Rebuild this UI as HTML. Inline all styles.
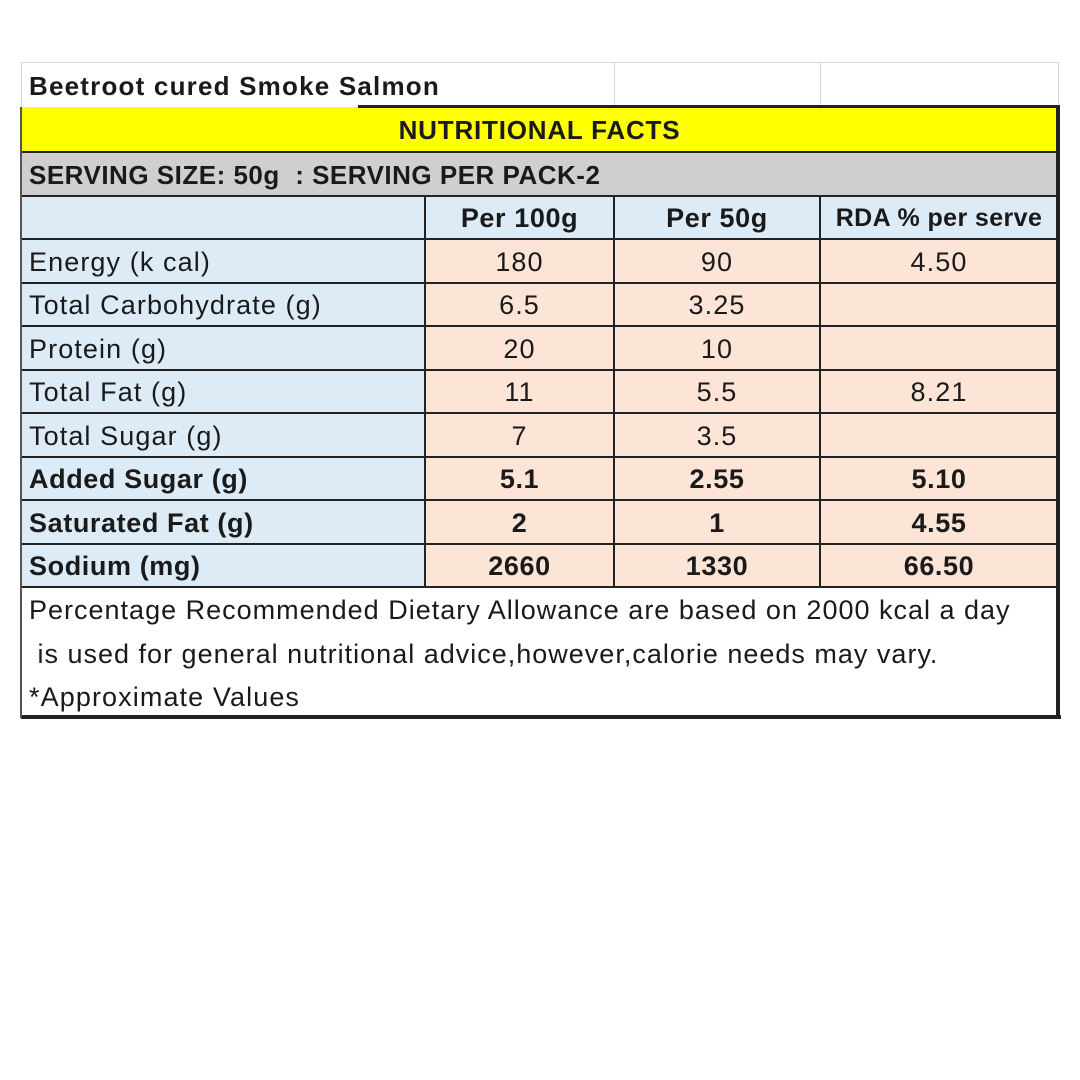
<!DOCTYPE html>
<html><head><meta charset="utf-8"><style>
body{margin:0;width:1080px;height:1080px;background:#fff;position:relative;font-family:"Liberation Sans",sans-serif;color:#1a1a1a;overflow:hidden}
.c{position:absolute;box-sizing:border-box;font-size:27px;line-height:43px;white-space:nowrap;overflow:visible;letter-spacing:1.1px}
.l{padding-left:8px}
.m{text-align:center}
.b{font-weight:bold;letter-spacing:0.6px}
.hl{position:absolute;height:2px;background:#222}
.vl{position:absolute;width:2px;background:#222}
.blue{background:#ddebf7}
.peach{background:#fce4d6}
</style></head><body>
<div style="position:absolute;left:21px;top:62px;width:1038px;height:1px;background:#d8d8d8"></div>
<div style="position:absolute;left:614px;top:62px;width:1px;height:45px;background:#d8d8d8"></div>
<div style="position:absolute;left:820px;top:62px;width:1px;height:45px;background:#d8d8d8"></div>
<div style="position:absolute;left:1058px;top:62px;width:1px;height:45px;background:#d8d8d8"></div>
<div style="position:absolute;left:21px;top:62px;width:1px;height:45px;background:#d8d8d8"></div>
<div class="c l b" style="left:21px;top:65px;height:43px;font-size:26px;letter-spacing:1.2px">Beetroot cured Smoke Salmon</div>
<div class="c m b" style="left:21px;top:107px;width:1037px;height:45px;background:#ffff00;line-height:47px;font-size:26px;letter-spacing:0.8px">NUTRITIONAL FACTS</div>
<div class="c l b" style="left:21px;top:152px;width:1037px;height:44px;background:#d0cece;line-height:46px;font-size:26px;letter-spacing:0.5px">SERVING SIZE: 50g&nbsp; : SERVING PER PACK-2</div>
<div class="c blue" style="left:21px;top:196px;width:1037px;height:43px"></div>
<div class="c m b" style="left:425px;top:197px;width:189px">Per 100g</div>
<div class="c m b" style="left:614px;top:197px;width:206px">Per 50g</div>
<div class="c m b" style="left:820px;top:197px;width:238px;font-size:25px;letter-spacing:0.4px">RDA % per serve</div>

<div class="c l blue" style="left:21px;top:239px;width:404px;height:348px"></div>
<div class="c peach" style="left:425px;top:239px;width:633px;height:348px"></div>

<div class="c l" style="left:21px;top:241px">Energy (k cal)</div>
<div class="c m" style="left:425px;top:241px;width:189px">180</div>
<div class="c m" style="left:614px;top:241px;width:206px">90</div>
<div class="c m" style="left:820px;top:241px;width:238px">4.50</div>

<div class="c l" style="left:21px;top:284px">Total Carbohydrate (g)</div>
<div class="c m" style="left:425px;top:284px;width:189px">6.5</div>
<div class="c m" style="left:614px;top:284px;width:206px">3.25</div>

<div class="c l" style="left:21px;top:328px">Protein (g)</div>
<div class="c m" style="left:425px;top:328px;width:189px">20</div>
<div class="c m" style="left:614px;top:328px;width:206px">10</div>

<div class="c l" style="left:21px;top:371px">Total Fat (g)</div>
<div class="c m" style="left:425px;top:371px;width:189px">11</div>
<div class="c m" style="left:614px;top:371px;width:206px">5.5</div>
<div class="c m" style="left:820px;top:371px;width:238px">8.21</div>

<div class="c l" style="left:21px;top:415px">Total Sugar (g)</div>
<div class="c m" style="left:425px;top:415px;width:189px">7</div>
<div class="c m" style="left:614px;top:415px;width:206px">3.5</div>

<div class="c l b" style="left:21px;top:458px">Added Sugar (g)</div>
<div class="c m b" style="left:425px;top:458px;width:189px">5.1</div>
<div class="c m b" style="left:614px;top:458px;width:206px">2.55</div>
<div class="c m b" style="left:820px;top:458px;width:238px">5.10</div>

<div class="c l b" style="left:21px;top:502px">Saturated Fat (g)</div>
<div class="c m b" style="left:425px;top:502px;width:189px">2</div>
<div class="c m b" style="left:614px;top:502px;width:206px">1</div>
<div class="c m b" style="left:820px;top:502px;width:238px">4.55</div>

<div class="c l b" style="left:21px;top:545px">Sodium (mg)</div>
<div class="c m b" style="left:425px;top:545px;width:189px">2660</div>
<div class="c m b" style="left:614px;top:545px;width:206px">1330</div>
<div class="c m b" style="left:820px;top:545px;width:238px">66.50</div>

<div class="c l" style="left:21px;top:589px;letter-spacing:1px">Percentage Recommended Dietary Allowance are based on 2000 kcal a day</div>
<div class="c l" style="left:21px;top:633px;letter-spacing:1px">&nbsp;is used for general nutritional advice,however,calorie needs may vary.</div>
<div class="c l" style="left:21px;top:676px">*Approximate Values</div>

<div class="hl" style="left:358px;top:105px;width:702px;height:3px"></div>
<div class="hl" style="left:21px;top:151px;width:1038px"></div>
<div class="hl" style="left:21px;top:195px;width:1038px"></div>
<div class="hl" style="left:21px;top:238px;width:1038px"></div>
<div class="hl" style="left:21px;top:282px;width:1038px"></div>
<div class="hl" style="left:21px;top:325px;width:1038px"></div>
<div class="hl" style="left:21px;top:369px;width:1038px"></div>
<div class="hl" style="left:21px;top:412px;width:1038px"></div>
<div class="hl" style="left:21px;top:456px;width:1038px"></div>
<div class="hl" style="left:21px;top:499px;width:1038px"></div>
<div class="hl" style="left:21px;top:543px;width:1038px"></div>
<div class="hl" style="left:21px;top:586px;width:1038px"></div>
<div class="hl" style="left:21px;top:715px;width:1040px;height:4px"></div>
<div class="vl" style="left:424px;top:196px;height:391px"></div>
<div class="vl" style="left:613px;top:196px;height:391px"></div>
<div class="vl" style="left:819px;top:196px;height:391px"></div>
<div class="vl" style="left:20px;top:107px;height:611px;width:2px;background:#555"></div>
<div class="vl" style="left:1056px;top:105px;height:614px;width:4px"></div>
</body></html>
